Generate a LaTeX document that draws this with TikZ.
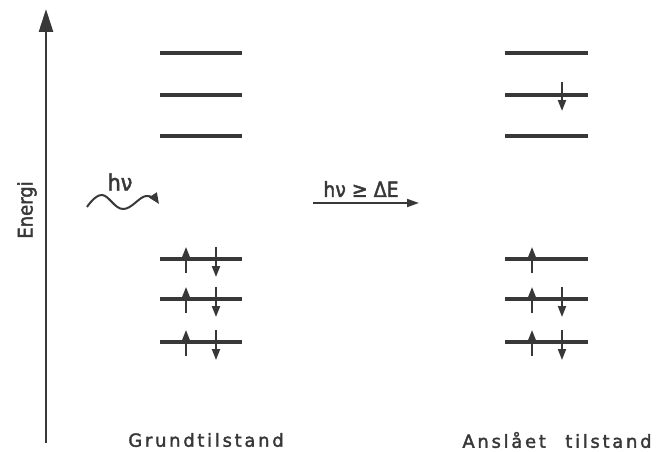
\documentclass[tikz,border=0pt]{standalone}
\usepackage{fontspec}
\setmainfont{DejaVu Sans}
\usetikzlibrary{arrows.meta}
\definecolor{ink}{HTML}{383838}
\begin{document}
\begin{tikzpicture}[x=1pt,y=-1pt, color=ink,
  level/.style={line width=3.2pt},
  spin/.style={line width=2pt,-{Triangle[length=11pt,width=8pt]}},
  lbl/.style={text=ink, inner sep=0pt},
  lblfont/.style={font=\fontsize{#1}{#1}\selectfont\addfontfeatures{FakeBold=2,LetterSpace=15}},
  nfont/.style={font=\fontsize{#1}{#1}\selectfont\addfontfeatures{FakeBold=2,FakeStretch=0.9}}]
\useasboundingbox (0,0) rectangle (656,452);
% energy axis
\coordinate (axb) at (46,443);
\coordinate (axt) at (46,9);
\draw[line width=2.6pt,-{Triangle[length=23pt,width=14pt]}] (axb) -- (axt);
\node[lbl, nfont=20, rotate=90] (energi) at (27,210) {Energi};
% levels
\foreach \y [count=\i] in {53,95,136,259,299,342} {
  \coordinate (L\i a) at (160,\y); \coordinate (L\i b) at (242,\y);
  \coordinate (R\i a) at (505,\y); \coordinate (R\i b) at (588,\y);
  \draw[level] (L\i a) -- (L\i b);
  \draw[level] (R\i a) -- (R\i b);
}
% ground state spins
\foreach \y in {259,299,342} {
  \coordinate (gu1) at (186,\y+14); \coordinate (gu2) at (186,\y-12);
  \coordinate (gd1) at (216,\y-12); \coordinate (gd2) at (216,\y+18);
  \draw[spin] (gu1) -- (gu2);
  \draw[spin] (gd1) -- (gd2);
}
% excited state spins
\foreach \y in {259,299,342} {
  \coordinate (eu1) at (532,\y+14); \coordinate (eu2) at (532,\y-12);
  \draw[spin] (eu1) -- (eu2);
}
\foreach \y in {299,342} {
  \coordinate (ed1) at (562,\y-12); \coordinate (ed2) at (562,\y+18);
  \draw[spin] (ed1) -- (ed2);
}
\coordinate (x1) at (562,82); \coordinate (x2) at (562,111);
\draw[spin] (x1) -- (x2);
% photon
\node[lbl, nfont=23] (hv) at (120,182) {hν};
\draw[line width=2pt,-{Triangle[length=11pt,width=9pt]}] plot[smooth,tension=0.7] coordinates {(87,207) (102,195) (123,209) (146,196) (159,204)};
% transition arrow
\node[lbl, nfont=21] (cond) at (361,189) {hν ≥ ΔE};
\coordinate (ta) at (313,203); \coordinate (tb) at (419,203);
\draw[line width=1.8pt,-{Triangle[length=12pt,width=8pt]}] (ta) -- (tb);
% labels
\node[lbl, lblfont=18] (gs) at (206,440) {Grundtilstand};
\node[lbl, lblfont=18] (es) at (557,440) {Anslået\hspace{11pt} tilstand};
\end{tikzpicture}
\end{document}
